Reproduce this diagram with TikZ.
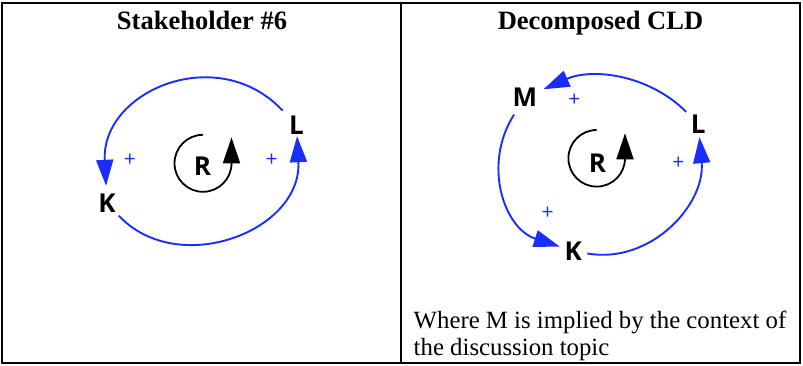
\documentclass[tikz,border=0pt]{standalone}
\usepackage{fontspec}
\setmainfont{Liberation Serif}
\newfontfamily\lblfont{Open Sans}
\usetikzlibrary{arrows.meta,calc}
\definecolor{cldblue}{RGB}{25,45,255}
\begin{document}
\begin{tikzpicture}[x=1pt,y=1pt,
  var/.style={circle,inner sep=0pt,font=\lblfont\bfseries\fontsize{26}{26}\selectfont},
  pol/.style={text=cldblue,inner sep=0pt,font=\lblfont\fontsize{21}{21}\selectfont},
  link/.style={draw=cldblue,line width=1.9pt,-{Triangle[length=26pt,width=17pt]}},
  loopline/.style={draw=black,line width=1.8pt,-{Triangle[length=26pt,width=17pt]}},
  title/.style={inner sep=0pt,anchor=base,font=\bfseries\fontsize{26.5}{30}\selectfont},
  body/.style={inner sep=0pt,anchor=base west,font=\fontsize{24.8}{28}\selectfont},
  frame/.style={draw=black,line width=2.2pt}
]
\useasboundingbox (0,0) rectangle (803,365);
% table frame
\draw[frame] (2,2.3) rectangle (800,362.3);
\draw[frame] (401.2,2.3) -- (401.2,362.3);
% titles
\node[title] (t1) at (202,335.5) {Stakeholder \#6};
\node[title] (t2) at (600.5,335.5) {Decomposed CLD};
% body text
\node[body] (b1) at (413.5,37) {Where M is implied by the context of};
\node[body] (b2) at (413.5,9.5) {the discussion topic};

% ---- left diagram ----
\node[var,minimum size=34pt] (K1) at (107,162) {K};
\node[var,minimum size=40pt] (L1) at (296.5,239.5) {L};
\node[var] (R1) at (202.5,199) {R};
\node[pol] (p1) at (130,205) {+};
\node[pol] (p2) at (271.7,205) {+};
\draw[link] (L1) to[out=133,in=93,distance=95pt] (K1);
\draw[link,shorten >=-9.5pt] (K1) to[out=313,in=273,distance=86pt] (L1);
\draw[loopline] (R1.center) ++(0.5,31.2) arc[start angle=90,end angle=360,radius=28.5] -- ++(0,26);

% ---- right diagram ----
\node[var,minimum size=40pt] (M2) at (525,267.5) {M};
\node[var,minimum size=34pt] (L2) at (698.3,241) {L};
\node[var,minimum size=28pt] (K2) at (573.3,114) {K};
\node[var] (R2) at (597.5,201.5) {R};
\node[pol] (p3) at (574.3,264.3) {+};
\node[pol] (p4) at (678.3,201.7) {+};
\node[pol] (p5) at (547.7,151.7) {+};
\draw[link] (L2) to[out=135,in=24,distance=53pt] (M2);
\draw[link] (M2) to[out=237.5,in=162,distance=59pt] (K2);
\draw[link,shorten >=-4pt] (K2) to[out=350,in=275,distance=64pt] (L2);
\draw[loopline] (R2.center) ++(-0.8,33.5) arc[start angle=90,end angle=360,radius=28.3] -- ++(0,25);
\end{tikzpicture}
\end{document}
